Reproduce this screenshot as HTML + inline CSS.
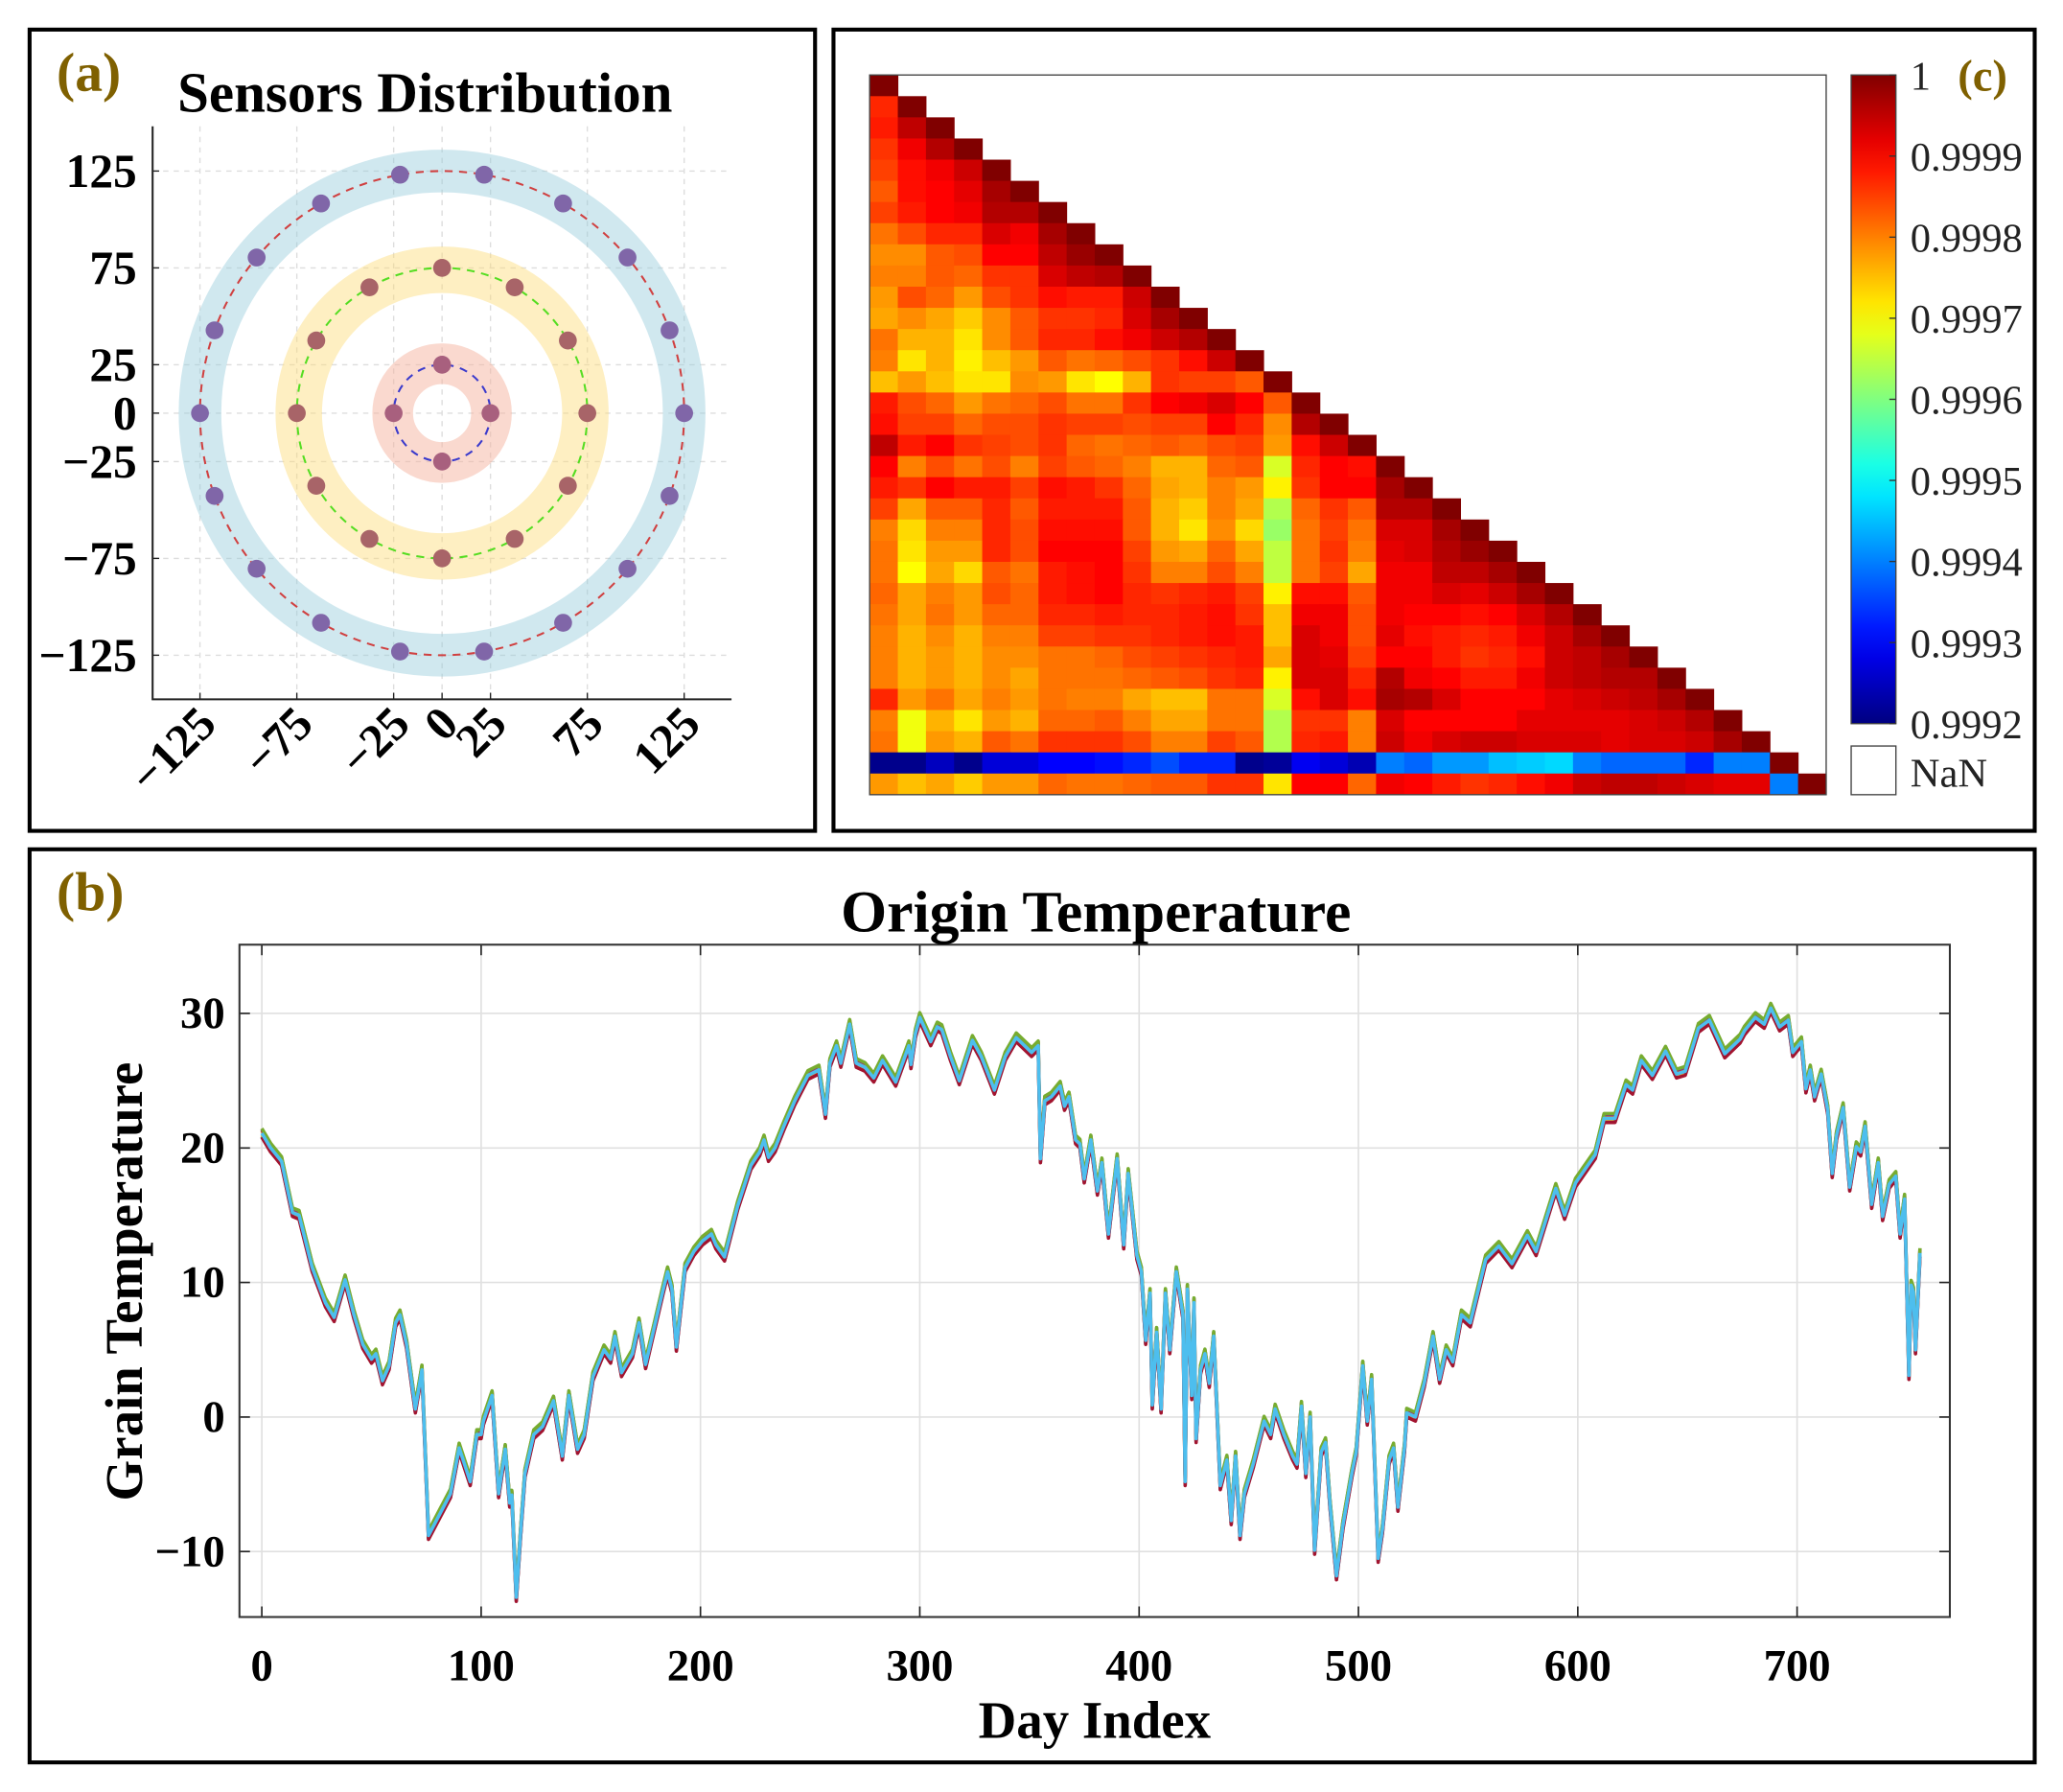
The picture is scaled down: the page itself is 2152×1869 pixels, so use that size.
<!DOCTYPE html>
<html><head><meta charset="utf-8"><style>
html,body{margin:0;padding:0;background:#fff;}
svg{display:block;font-family:"Liberation Serif",serif;}
</style></head><body>
<svg id="fig" width="2152" height="1869" viewBox="0 0 1568 1362" preserveAspectRatio="none">
<rect x="0" y="0" width="1568" height="1362" fill="#fff"/>
<rect x="22.5" y="22.5" width="597" height="609" fill="none" stroke="#000" stroke-width="3"/>
<rect x="633.5" y="22.5" width="913" height="609" fill="none" stroke="#000" stroke-width="3"/>
<rect x="22.5" y="645.5" width="1524" height="694" fill="none" stroke="#000" stroke-width="3"/>
<g id="pa"></g>
<g id="pc"></g>
<g id="pb"></g>
<text x="43" y="69" font-size="42" font-weight="bold" fill="#7f6000">(a)</text>
<text x="323" y="85" font-size="43" font-weight="bold" text-anchor="middle">Sensors Distribution</text>
<text x="1488" y="69" font-size="34" font-weight="bold" fill="#7f6000">(c)</text>
<text x="43" y="692" font-size="42" font-weight="bold" fill="#7f6000">(b)</text>
<text x="833" y="708" font-size="45" font-weight="bold" text-anchor="middle">Origin Temperature</text>
<text x="832" y="1321" font-size="40" font-weight="bold" text-anchor="middle">Day Index</text>
<text transform="translate(108,974) rotate(-90)" font-size="40" font-weight="bold" text-anchor="middle">Grain Temperature</text>
</svg>
<script>
// ---------- Panel A data ----------
const ringRadii = [25, 75, 125];
const ringSensorCounts = [4, 12, 18];
const ringBandInner = [15, 62, 114];
const ringBandOuter = [36, 86, 136];
const aTicks = [-125, -75, -25, 0, 25, 75, 125];
const aTickLabels = ["\u2212125", "\u221275", "\u221225", "0", "25", "75", "125"];

// ---------- Panel C data (correlation, units of 1e-5 above 0.999) ----------
const corrRows = [
[100],
[87,100],
[88,95,100],
[86,91,96,100],
[85,89,91,94,100],
[83,89,90,92,97,100],
[85,88,90,91,96,96,100],
[81,84,87,87,93,91,97,100],
[79,79,83,84,90,90,95,98,100],
[80,80,83,82,86,86,93,95,96,100],
[78,84,82,78,84,86,89,88,88,94,100],
[77,79,77,74,79,83,86,86,87,93,97,100],
[81,76,76,72,79,83,87,87,89,91,94,96,100],
[80,72,76,71,75,78,83,81,82,84,86,89,94,100],
[75,78,75,72,72,79,78,72,70,76,86,85,85,83,100],
[88,84,82,78,81,82,84,81,81,86,90,91,93,90,83,100],
[89,85,85,82,84,84,86,85,85,84,85,85,90,87,79,96,100],
[95,88,90,86,85,84,86,82,81,82,83,82,84,85,78,89,94,100],
[90,80,84,81,84,80,85,83,82,80,76,76,82,83,67,87,90,89,100],
[88,86,90,88,88,85,89,88,86,82,77,76,80,78,71,86,90,90,97,100],
[85,77,83,83,87,83,88,88,88,83,76,74,80,77,64,82,86,83,96,96,100],
[80,73,80,80,87,84,89,89,89,83,76,72,79,73,62,81,85,81,93,93,97,100],
[81,72,78,78,87,84,90,90,90,85,78,77,82,77,65,81,86,80,92,93,96,98,100],
[81,70,77,73,83,81,88,89,90,86,80,80,84,80,65,81,85,77,91,91,95,95,97,100],
[82,77,80,78,84,82,88,89,90,87,86,87,88,85,71,89,89,83,91,91,93,92,94,97,100],
[81,77,81,78,82,82,87,87,88,87,87,88,89,86,75,91,91,84,91,90,90,89,90,93,96,100],
[80,76,79,76,80,80,85,85,86,86,87,88,89,88,75,93,91,84,92,89,88,87,88,91,94,97,100],
[80,76,78,76,79,79,81,81,82,84,85,86,87,88,77,93,92,85,90,90,88,86,87,89,94,95,97,100],
[80,76,78,76,79,77,81,81,81,82,83,84,86,87,71,93,93,87,96,91,90,88,88,91,94,95,96,96,100],
[87,78,81,77,80,78,81,80,80,77,75,75,81,81,67,89,93,89,97,96,93,90,90,90,92,93,94,95,97,100],
[80,69,76,72,78,76,82,82,83,80,77,77,81,81,64,86,86,80,93,90,90,90,90,92,92,92,92,93,94,96,100],
[81,69,78,76,83,81,86,86,86,84,80,80,85,83,64,87,88,80,94,91,93,94,94,93,93,93,92,93,93,94,97,100],
[21,21,25,21,27,27,30,30,31,33,36,33,33,21,22,29,27,24,40,38,42,42,45,46,47,40,38,38,38,33,40,40,100],
[78,75,77,74,78,78,82,81,81,82,83,83,86,86,72,90,90,82,91,90,88,86,87,89,91,94,95,95,94,93,92,92,40,100]
];
const cbTicks = [1, 0.9999, 0.9998, 0.9997, 0.9996, 0.9995, 0.9994, 0.9993, 0.9992];
const cbTickLabels = ["1","0.9999","0.9998","0.9997","0.9996","0.9995","0.9994","0.9993","0.9992"];

// ---------- Panel B data ----------
const days = [0,4,7,9,14,17,23,29,33,38,42,46,50,52,55,58,61,63,66,70,73,76,86,90,95,98,100,101,105,108,111,113,114,116,118,120,124,128,133,137,140,144,147,151,156,159,161,164,169,172,175,178,183,185,187,189,193,197,201,205,207,211,217,223,227,229,231,234,238,243,249,254,257,259,262,264,268,271,275,279,283,289,295,296,298,300,305,308,310,314,318,324,328,334,339,344,351,354,355,357,360,364,366,368,371,373,375,378,381,383,386,390,393,395,399,401,403,405,406,408,410,412,414,417,420,421,422,424,425,426,428,430,432,434,437,440,442,444,446,448,452,457,460,462,466,470,472,474,476,478,480,483,485,487,490,493,497,499,502,504,506,509,511,514,516,518,521,522,526,530,534,537,540,543,547,551,558,564,570,577,581,590,594,599,608,612,617,622,625,629,634,640,645,649,655,660,667,674,676,681,685,688,692,696,698,702,704,706,708,711,714,716,718,721,724,727,729,731,734,737,739,742,745,747,749,751,752,753,754,756];
const temps = [21.1,20,19.4,19,15.2,15,11.1,8.5,7.4,10.2,7.6,5.4,4.3,4.7,2.7,3.8,7,7.6,5.4,0.6,3.5,-8.8,-5.7,-2.3,-4.8,-1.3,-1.3,-0.3,1.6,-5.7,-2.4,-6.4,-5.8,-13.4,-8.6,-4.2,-1.3,-0.7,1.2,-2.9,1.6,-2.4,-1.3,3,5,4.3,6,3.3,4.7,7,3.9,6,9.5,10.8,9.5,5.2,11.1,12.3,13.1,13.6,12.8,11.9,15.7,18.7,19.7,20.6,19.3,20,21.6,23.5,25.4,25.8,22.5,26.3,27.6,26.3,29.2,26.3,26,25.2,26.5,24.9,27.6,26.2,28.5,29.7,27.9,29,28.8,26.8,25,28,26.8,24.3,26.8,28.2,27.1,27.6,19.2,23.5,23.8,24.6,23.1,23.8,20.6,20.3,17.7,20.6,16.8,18.9,13.6,19.2,12.8,18.1,12,10.8,5.7,9.2,0.9,6.3,0.6,9.2,5,10.8,7.6,-4.8,9.5,1.6,8.5,-1.6,3.5,4.7,2.5,6,-5.1,-3.2,-7.7,-2.9,-8.8,-5.7,-3.5,-0.3,-1.3,0.6,-1.3,-2.9,-3.5,0.8,-4.2,0,-9.9,-2.6,-1.9,-6.4,-11.8,-8,-4.2,-2.6,3.8,-0.3,2.8,-10.5,-8.3,-3.2,-2.3,-6.7,-2.3,0.3,0,2.5,6,2.8,5,4.1,7.6,7,11.7,12.7,11.4,13.5,12.3,17,15,17.4,19.5,22.2,22.2,24.7,24.3,26.5,25.4,27.2,25.5,25.7,28.9,29.5,27,28.1,28.7,29.7,29.2,30.4,29,29.5,27.1,27.9,24.4,25.8,23.8,25.5,22.8,18.1,20.9,23,17.1,20.1,19.7,21.6,15.8,18.9,14.9,17.3,17.9,13.6,16.2,3.1,9.8,9.3,5,12.2];
const sensorOffsets = [-0.25, 0.2, -0.15, 0.3, 0.35, -0.3, 0];
const seriesColors = ["#0072BD","#D95319","#EDB120","#7E2F8E","#77AC30","#A2142F","#4DBEEE"];
const bXTicks = [0,100,200,300,400,500,600,700];
const bYTicks = [-10,0,10,20,30];

const NS = "http://www.w3.org/2000/svg";
function mk(parent, tag, attrs, text) {
  const el = document.createElementNS(NS, tag);
  for (const k in attrs) el.setAttribute(k, attrs[k]);
  if (text !== undefined) el.textContent = text;
  parent.appendChild(el);
  return el;
}

// ===== Panel A =====
(function(){
  const g = document.getElementById('pa');
  const cx = 336, cy = 314, s = 1.472;
  const X = v => cx + v * s, Y = v => cy - v * s;
  const L = 116, R = 556, T = 96, B = 531.5;
  aTicks.forEach((t, i) => {
    const gx = mk(g, 'line', {x1: X(t), x2: X(t), y1: T, y2: B, stroke: '#ddd', 'stroke-width': 1, 'stroke-dasharray': '4 4'});
    
    
    const gy = mk(g, 'line', {x1: L, x2: R, y1: Y(t), y2: Y(t), stroke: '#ddd', 'stroke-width': 1, 'stroke-dasharray': '4 4'});
    
    
  });
  const bandColors = ['rgba(245,180,160,0.5)', 'rgba(253,220,120,0.45)', 'rgba(150,205,220,0.45)'];
  const dashColors = ['#3a3acc', '#55dd22', '#d04040'];
  const dotColors = ['#a8607e', '#a86468', '#8066a8'];
  ringRadii.forEach((r, i) => {
    const mid = (ringBandInner[i] + ringBandOuter[i]) / 2, w = ringBandOuter[i] - ringBandInner[i];
    const band = mk(g, 'circle', {cx: cx, cy: cy, r: mid * s, fill: 'none', stroke: bandColors[i], 'stroke-width': w * s});
    
    
  });
  ringRadii.forEach((r, i) => {
    const c = mk(g, 'circle', {cx: cx, cy: cy, r: r * s, fill: 'none', stroke: dashColors[i], 'stroke-width': 1.5, 'stroke-dasharray': '6 5'});
    
    
    const n = ringSensorCounts[i];
    for (let k = 0; k < n; k++) {
      const a = 2 * Math.PI * k / n;
      const d = mk(g, 'circle', {cx: X(r * Math.cos(a)), cy: Y(r * Math.sin(a)), r: 6.8, fill: dotColors[i]});
      
      
    }
  });
  const ax = mk(g, 'path', {d: `M${L},${T} V${B} H${R}`, fill: 'none', stroke: '#222', 'stroke-width': 1.5});
  
  
  aTicks.forEach((t, i) => {
    const yl = mk(g, 'text', {x: 104, y: Y(t) + 12, 'font-size': 36, 'font-weight': 'bold', 'text-anchor': 'end'}, aTickLabels[i]);
    
    
    const tx = X(t) + 14, ty = 552;
    const xl = mk(g, 'text', {x: tx, y: ty, 'font-size': 36, 'font-weight': 'bold', 'text-anchor': 'end', transform: `rotate(-45 ${tx} ${ty})`}, aTickLabels[i]);
    
    
    const tk1 = mk(g, 'line', {x1: L, x2: L + 5, y1: Y(t), y2: Y(t), stroke: '#222', 'stroke-width': 1});
    
    
    const tk2 = mk(g, 'line', {x1: X(t), x2: X(t), y1: B, y2: B - 5, stroke: '#222', 'stroke-width': 1});
    
    
  });
})();

// ===== Panel C =====
function jet(t) {
  t = Math.max(0, Math.min(1, t));
  const c = v => Math.round(255 * Math.max(0, Math.min(1, v)));
  return `rgb(${c(1.5 - Math.abs(4 * t - 3))},${c(1.5 - Math.abs(4 * t - 2))},${c(1.5 - Math.abs(4 * t - 1))})`;
}
(function(){
  const g = document.getElementById('pc');
  const L = 661, R = 1388, T = 57, B = 604, n = corrRows.length;
  const cw = (R - L) / n, ch = (B - T) / n;
  const vmin = 0.9992, vmax = 1;
  corrRows.forEach((row, i) => {
    row.forEach((u, j) => {
      const v = 0.999 + u / 100000;
      const r = mk(g, 'rect', {x: L + j * cw, y: T + i * ch, width: cw + 0.4, height: ch + 0.4, fill: jet((v - vmin) / (vmax - vmin))});
      
      
    });
  });
  const box = mk(g, 'rect', {x: L, y: T, width: R - L, height: B - T, fill: 'none', stroke: '#444', 'stroke-width': 1});
  
  
  const cbL = 1407, cbW = 34, cbT = 57, cbB = 550;
  const defs = mk(g, 'defs', {});
  const lg = mk(defs, 'linearGradient', {id: 'jetgrad', x1: 0, y1: 1, x2: 0, y2: 0});
  for (let k = 0; k <= 20; k++) mk(lg, 'stop', {offset: k / 20, 'stop-color': jet(k / 20)});
  const cb = mk(g, 'rect', {x: cbL, y: cbT, width: cbW, height: cbB - cbT, fill: 'url(#jetgrad)', stroke: '#444', 'stroke-width': 1});
  
  
  cbTicks.forEach((t, i) => {
    const y = cbB - (t - vmin) / (vmax - vmin) * (cbB - cbT);
    const tk = mk(g, 'line', {x1: cbL + cbW - 5, x2: cbL + cbW, y1: y, y2: y, stroke: '#333', 'stroke-width': 1});
    
    
    const tl = mk(g, 'text', {x: 1452, y: y + 11, 'font-size': 31, fill: '#222'}, cbTickLabels[i]);
    
    
  });
  const nb = mk(g, 'rect', {x: cbL, y: 567, width: cbW, height: 37, fill: '#fff', stroke: '#444', 'stroke-width': 1});
  
  
  const nt = mk(g, 'text', {x: 1452, y: 598, 'font-size': 31, fill: '#222'}, 'NaN');
  
  
})();

// ===== Panel B =====
(function(){
  const g = document.getElementById('pb');
  const L = 182, R = 1482, T = 718, B = 1229;
  const X = d => 199 + d * 1.667, Y = v => 1077 - v * 10.225;
  bXTicks.forEach(t => {
    const gl = mk(g, 'line', {x1: X(t), x2: X(t), y1: T, y2: B, stroke: '#e0e0e0', 'stroke-width': 1.2});
    
    
    const tl = mk(g, 'text', {x: X(t), y: 1277, 'font-size': 34, 'font-weight': 'bold', 'text-anchor': 'middle'}, String(t));
    
    
    const tk = mk(g, 'path', {d: `M${X(t)},${B} v-8 M${X(t)},${T} v8`, stroke: '#222', 'stroke-width': 1.2});
    
    
  });
  bYTicks.forEach(t => {
    const gl = mk(g, 'line', {x1: L, x2: R, y1: Y(t), y2: Y(t), stroke: '#e0e0e0', 'stroke-width': 1.2});
    
    
    const tl = mk(g, 'text', {x: 171, y: Y(t) + 11, 'font-size': 34, 'font-weight': 'bold', 'text-anchor': 'end'}, t < 0 ? '\u2212' + Math.abs(t) : String(t));
    
    
    const tk = mk(g, 'path', {d: `M${L},${Y(t)} h8 M${R},${Y(t)} h-8`, stroke: '#222', 'stroke-width': 1.2});
    
    
  });
  sensorOffsets.forEach((off, si) => {
    const d = days.map((dd, k) => (k ? 'L' : 'M') + X(dd).toFixed(1) + ',' + Y(temps[k] + off).toFixed(1)).join('');
    const p = mk(g, 'path', {d: d, fill: 'none', stroke: seriesColors[si], 'stroke-width': 2.6, 'stroke-linejoin': 'round'});
    
    
  });
  const box = mk(g, 'rect', {x: L, y: T, width: R - L, height: B - T, fill: 'none', stroke: '#333', 'stroke-width': 1.5});
  
  
})();
</script>
</body></html>
